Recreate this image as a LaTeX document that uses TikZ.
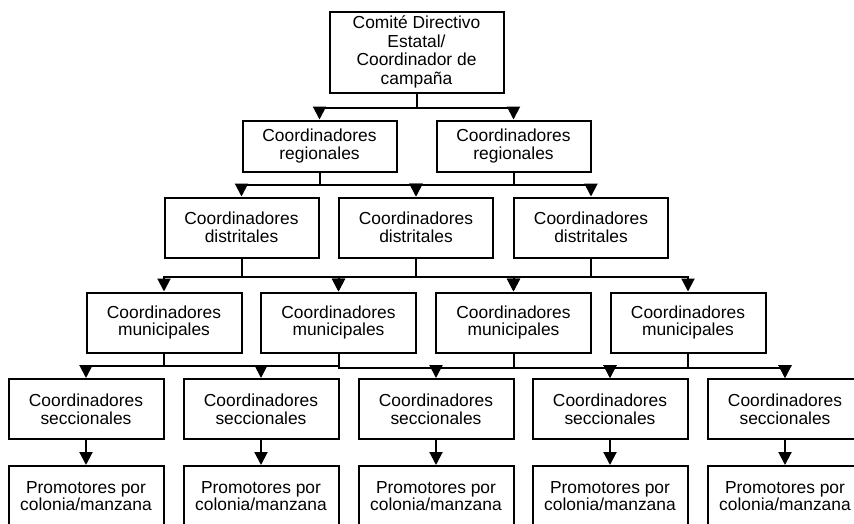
\documentclass[tikz,border=0pt]{standalone}
\usepackage{fontspec}
\setmainfont{Liberation Sans}
\usetikzlibrary{arrows.meta}

\begin{document}
\begin{tikzpicture}[x=1pt,y=-1pt,
    caja/.style={draw,line width=2pt,align=center,inner sep=0pt,minimum width=154pt,minimum height=60pt,font=\fontsize{17.4}{17.6}\selectfont},
    flecha/.style={line width=2pt,-{Triangle[length=13pt,width=13pt]}},
    linea/.style={line width=2pt}]
    \clip (0,0) rectangle (854,523);
    % niveles de la estructura
    \node[caja,minimum width=174pt,minimum height=81pt,font=\fontsize{17.4}{18.7}\selectfont] (comite) at (416.5,52) {Comité Directivo\\Estatal/\\Coordinador de\\campaña};
    \node[caja,minimum height=51pt] (reg1) at (319.5,146) {Coordinadores\\regionales};
    \node[caja,minimum height=51pt] (reg2) at (513.5,146) {Coordinadores\\regionales};
    \node[caja] (dist1) at (241.5,227.5) {Coordinadores\\distritales};
    \node[caja] (dist2) at (416,227.5) {Coordinadores\\distritales};
    \node[caja] (dist3) at (591,227.5) {Coordinadores\\distritales};
    \node[caja,minimum width=155pt] (muni1) at (164,322.5) {Coordinadores\\municipales};
    \node[caja,minimum width=155pt] (muni2) at (338.5,322.5) {Coordinadores\\municipales};
    \node[caja,minimum width=155pt] (muni3) at (513.5,322.5) {Coordinadores\\municipales};
    \node[caja,minimum width=155pt] (muni4) at (688,322.5) {Coordinadores\\municipales};
    \node[caja,minimum width=155pt] (secc1) at (86,409) {Coordinadores\\seccionales};
    \node[caja,minimum width=155pt] (secc2) at (261,409) {Coordinadores\\seccionales};
    \node[caja,minimum width=155pt] (secc3) at (436,409) {Coordinadores\\seccionales};
    \node[caja,minimum width=155pt] (secc4) at (610,409) {Coordinadores\\seccionales};
    \node[caja,minimum width=155pt] (secc5) at (785,409) {Coordinadores\\seccionales};
    \node[caja,minimum width=155pt] (prom1) at (86,496) {Promotores por\\colonia/manzana};
    \node[caja,minimum width=155pt] (prom2) at (261,496) {Promotores por\\colonia/manzana};
    \node[caja,minimum width=155pt] (prom3) at (436,496) {Promotores por\\colonia/manzana};
    \node[caja,minimum width=155pt] (prom4) at (610,496) {Promotores por\\colonia/manzana};
    \node[caja,minimum width=155pt] (prom5) at (785,496) {Promotores por\\colonia/manzana};

    % ligas entre niveles
    \draw[flecha] (comite.south) -- ++(0,14) -| (reg1.north);
    \draw[flecha] (comite.south) -- ++(0,14) -| (reg2.north);
    \draw[flecha] (reg1.south) -- ++(0,12) -| (dist1.north);
    \draw[flecha] (reg1.south) -- ++(0,12) -| (dist2.north);
    \draw[flecha] (reg2.south) -- ++(0,12) -| (dist2.north);
    \draw[flecha] (reg2.south) -- ++(0,12) -| (dist3.north);
    \draw[flecha] (dist1.south) -- ++(0,18) -| (muni1.north);
    \draw[flecha] (dist1.south) -- ++(0,18) -| (muni2.north);
    \draw[flecha] (dist2.south) -- ++(0,18) -| (muni2.north);
    \draw[flecha] (dist2.south) -- ++(0,18) -| (muni3.north);
    \draw[flecha] (dist3.south) -- ++(0,18) -| (muni3.north);
    \draw[flecha] (dist3.south) -- ++(0,18) -| (muni4.north);
    \draw[flecha] (muni1.south) -- ++(0,12) -| (secc1.north);
    \draw[flecha] (muni1.south) -- ++(0,12) -| (secc2.north);
    \draw[linea] (muni1.south) ++(0,12) -| (muni2.south);
    \draw[flecha] (muni2.south) -- ++(0,14) -| (secc3.north);
    \draw[flecha] (muni2.south) -- ++(0,14) -| (secc4.north);
    \draw[flecha] (muni2.south) -- ++(0,14) -| (secc5.north);
    \draw[flecha] (muni3.south) -- ++(0,14) -| (secc4.north);
    \draw[flecha] (muni4.south) -- ++(0,14) -| (secc5.north);
    \foreach \i in {1,...,5}
        \draw[flecha] (secc\i) -- (prom\i);
\end{tikzpicture}
\end{document}
